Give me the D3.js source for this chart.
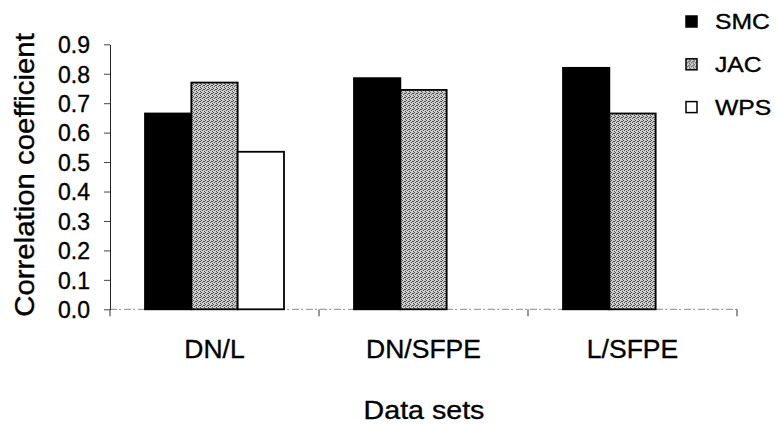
<!DOCTYPE html>
<html>
<head>
<meta charset="utf-8">
<script src="https://cdn.jsdelivr.net/npm/d3@7"></script>
<style>
  html, body { margin: 0; padding: 0; background: #fff; }
  svg { display: block; font-family: "Liberation Sans", Arial, sans-serif; }
  .lbl { fill: #000; stroke: #000; stroke-width: 0.35px; }
</style>
</head>
<body>
<svg id="chart" width="778" height="426"></svg>
<script>
// Correlation coefficients per data set pair and similarity measure
const categories = ["DN/L", "DN/SFPE", "L/SFPE"];
const seriesNames = ["SMC", "JAC", "WPS"];
const smcValues = [0.665, 0.785, 0.82];
const jacValues = [0.77, 0.745, 0.665];
const wpsValues = [0.535, null, null];
const yTickValues = [0, 0.1, 0.2, 0.3, 0.4, 0.5, 0.6, 0.7, 0.8, 0.9];

const seriesValues = { SMC: smcValues, JAC: jacValues, WPS: wpsValues };

const svg = d3.select("#chart");

// Stippled grey fill for the JAC bars
const defs = svg.append("defs");
const pat = defs.append("pattern")
  .attr("id", "stipple")
  .attr("patternUnits", "userSpaceOnUse")
  .attr("width", 4).attr("height", 4);
pat.append("rect").attr("width", 4).attr("height", 4).attr("fill", "#cfcfcf");
[[0, 0], [2, 1], [1, 2], [3, 3], [3, 1]].forEach(([px, py]) => {
  pat.append("rect").attr("x", px).attr("y", py).attr("width", 1).attr("height", 1).attr("fill", "#4a4a4a");
});

const fills = { SMC: "#000", JAC: "url(#stipple)", WPS: "#fff" };

const x = d3.scaleBand()
  .domain(categories)
  .range([110, 737])
  .paddingInner(0.335)
  .paddingOuter(0.1675);

const xs = d3.scaleBand()
  .domain(seriesNames)
  .range([0, x.bandwidth()]);

const y = d3.scaleLinear()
  .domain([0, 0.9])
  .range([309.3, 44.3]);

// X baseline (faint, broken) and boundary ticks
const gap = x.step() - x.bandwidth();
const bounds = categories.map(c => x(c) - gap / 2).concat([x(categories[categories.length - 1]) + x.bandwidth() + gap / 2]);

svg.append("line")
  .attr("x1", bounds[0]).attr("x2", bounds[bounds.length - 1])
  .attr("y1", y(0)).attr("y2", y(0))
  .attr("stroke", "#888").attr("stroke-width", 1)
  .attr("stroke-dasharray", "7,2,2,3");

svg.append("g").selectAll("line")
  .data(bounds)
  .join("line")
  .attr("x1", d => d).attr("x2", d => d)
  .attr("y1", y(0)).attr("y2", y(0) + 7)
  .attr("stroke", "#333").attr("stroke-width", 1);

// Bars
const groups = svg.append("g").selectAll("g")
  .data(categories)
  .join("g")
  .attr("transform", d => `translate(${x(d)},0)`);

groups.selectAll("rect")
  .data((c, i) => seriesNames.map(s => ({ s, v: seriesValues[s][i] })).filter(d => d.v != null))
  .join("rect")
  .attr("x", d => xs(d.s))
  .attr("y", d => y(d.v))
  .attr("width", xs.bandwidth())
  .attr("height", d => y(0) - y(d.v))
  .attr("fill", d => fills[d.s])
  .attr("stroke", "#000")
  .attr("stroke-width", 1.8);

// Y axis
const yAxis = svg.append("g")
  .attr("transform", "translate(110,0)")
  .call(d3.axisLeft(y).tickValues(yTickValues).tickFormat(d3.format(".1f")).tickSize(6).tickSizeOuter(0).tickPadding(14));
yAxis.select(".domain").attr("stroke", "#222").attr("stroke-width", 1);
yAxis.selectAll(".tick line").attr("stroke", "#444");
yAxis.selectAll(".tick text")
  .attr("class", "lbl")
  .attr("font-size", 23)
  .attr("font-family", "Liberation Sans, Arial, sans-serif")
  .attr("dy", "0.36em");

// Category labels
svg.append("g").selectAll("text")
  .data(categories)
  .join("text")
  .attr("class", "lbl")
  .attr("transform", d => `translate(${x(d) + x.bandwidth() / 2},357.7) scale(1.06,1)`)
  .attr("text-anchor", "middle")
  .attr("font-size", 25)
  .text(d => d);

// Axis titles
svg.append("text")
  .attr("class", "lbl")
  .attr("transform", "translate(424,419.3) scale(1.1,1)")
  .attr("text-anchor", "middle")
  .attr("font-size", 26)
  .text("Data sets");

svg.append("text")
  .attr("class", "lbl")
  .attr("transform", "translate(33.5,175) rotate(-90) scale(1.05,1)")
  .attr("text-anchor", "middle")
  .attr("font-size", 28)
  .text("Correlation coefficient");

// Legend
const legend = svg.append("g").selectAll("g")
  .data(seriesNames)
  .join("g")
  .attr("transform", (d, i) => `translate(686,${21.5 + i * 42.8})`);

legend.append("rect")
  .attr("x", 0).attr("y", -5.5)
  .attr("width", 11).attr("height", 11)
  .attr("fill", d => fills[d])
  .attr("stroke", "#000")
  .attr("stroke-width", 1.5);

legend.append("text")
  .attr("class", "lbl")
  .attr("transform", "translate(29,7.5) scale(1.15,1)")
  .attr("font-size", 21.5)
  .text(d => d);
</script>
</body>
</html>
